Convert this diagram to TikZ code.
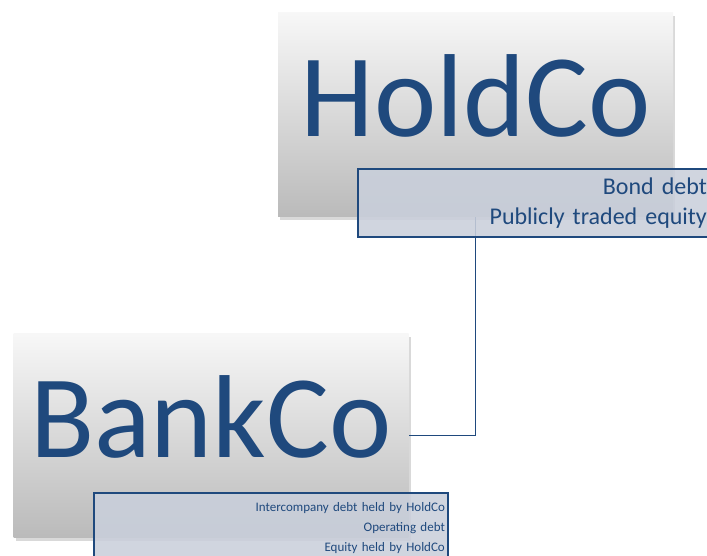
\documentclass[tikz,border=0pt]{standalone}
\usepackage{fontspec}
\setmainfont{Carlito}
\usetikzlibrary{shadows}
\definecolor{navy}{HTML}{1F497D}
\definecolor{liabfill}{HTML}{C9CFDB}

\begin{document}
\begin{tikzpicture}[x=1pt, y=-1pt,
  company/.style={minimum width=395pt, minimum height=204pt, inner sep=0pt,
    top color=white!97!black, bottom color=black!27,
    drop shadow={shadow xshift=2pt, shadow yshift=-3pt, opacity=0.3},
    text=navy, text height=81pt, text depth=37pt,
    font=\fontsize{118}{118}\selectfont},
  liab/.style={draw=navy, line width=1.8pt, fill=liabfill, fill opacity=0.88,
    text opacity=1, text=navy, align=right, inner xsep=3pt, anchor=north west},
  link/.style={draw=navy, line width=1.8pt}]
\useasboundingbox (0,0) rectangle (707,556);
% the two companies
\node[company] (holdco) at (475.5,115) {HoldCo};
\node[company] (bankco) at (211,435.5) {BankCo};
% ownership link
\draw[link] (holdco.south) |- (bankco.east);
% liabilities under each company
\node[liab, text width=346pt, minimum height=68pt, font=\fontsize{24}{30}\selectfont]
  (holdliab) at (357,168) {Bond debt\\Publicly traded equity};
\node[liab, text width=348pt, minimum height=70pt, font=\fontsize{13}{20}\selectfont]
  (bankliab) at (93,492) {Intercompany debt held by HoldCo\\Operating debt\\Equity held by HoldCo};
\end{tikzpicture}
\end{document}
